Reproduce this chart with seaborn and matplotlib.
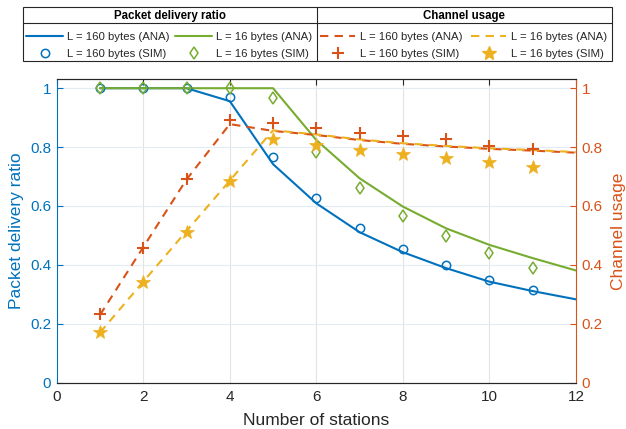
import numpy as np
import pandas as pd
import matplotlib
matplotlib.use("Agg")
import matplotlib.pyplot as plt
import seaborn as sns
from matplotlib.lines import Line2D
from matplotlib.patches import Rectangle
from matplotlib.ticker import FuncFormatter

sns.set_style("white")
plt.rcParams['font.family'] = ['Liberation Sans', 'DejaVu Sans']

# ---------------- data ----------------
stations_ana = [1, 2, 3, 4, 5, 6, 7, 8, 9, 10, 11, 12]
stations_sim = [1, 2, 3, 4, 5, 6, 7, 8, 9, 10, 11]

pdr_160_ana = [1.0, 1.0, 1.0, 0.956, 0.742, 0.609, 0.511, 0.443, 0.389, 0.343, 0.311, 0.283]
pdr_16_ana = [1.0, 1.0, 1.0, 1.0, 1.0, 0.824, 0.694, 0.598, 0.524, 0.468, 0.423, 0.381]
pdr_160_sim = [1.0, 1.0, 1.0, 0.969, 0.768, 0.626, 0.524, 0.453, 0.400, 0.349, 0.315]
pdr_16_sim = [1.0, 1.0, 1.0, 1.0, 0.966, 0.783, 0.660, 0.567, 0.498, 0.439, 0.391]

cu_160_ana = [0.23, 0.46, 0.69, 0.878, 0.855, 0.841, 0.824, 0.811, 0.802, 0.794, 0.788, 0.781]
cu_16_ana = [0.17, 0.343, 0.515, 0.686, 0.857, 0.843, 0.826, 0.813, 0.804, 0.796, 0.790, 0.783]
cu_160_sim = [0.233, 0.457, 0.691, 0.892, 0.883, 0.864, 0.847, 0.836, 0.828, 0.804, 0.793]
cu_16_sim = [0.173, 0.343, 0.513, 0.685, 0.827, 0.807, 0.790, 0.776, 0.764, 0.751, 0.734]

x_ticks = [0, 2, 4, 6, 8, 10, 12]
y_ticks = [0, 0.2, 0.4, 0.6, 0.8, 1.0]
x_label = "Number of stations"
y_left_label = "Packet delivery ratio"
y_right_label = "Channel usage"
lbl_160_ana = "L = 160 bytes (ANA)"
lbl_16_ana = "L = 16 bytes (ANA)"
lbl_160_sim = "L = 160 bytes (SIM)"
lbl_16_sim = "L = 16 bytes (SIM)"

# ---------------- style ----------------
BLUE = "#0072BD"
ORANGE = "#D95319"
YELLOW = "#EDB120"
GREEN = "#77AC30"
DARK = "#262626"

fig = plt.figure(figsize=(6.26, 4.29), dpi=100)
ax = fig.add_axes([0.0906, 0.108, 0.8294, 0.707])
ax2 = ax.twinx()

lw = 1.5
# left axis: packet delivery ratio
sns.lineplot(x=stations_ana, y=pdr_160_ana, ax=ax, color=BLUE, lw=lw, legend=False)
sns.lineplot(x=stations_ana, y=pdr_16_ana, ax=ax, color=GREEN, lw=lw, legend=False)
sns.lineplot(x=stations_sim, y=pdr_160_sim, ax=ax, color=BLUE, linestyle='none', marker='o',
             markersize=6, markerfacecolor='none', markeredgecolor=BLUE, markeredgewidth=1.1, legend=False)
sns.lineplot(x=stations_sim, y=pdr_16_sim, ax=ax, color=GREEN, linestyle='none', marker='d',
             markersize=6.5, markerfacecolor='none', markeredgecolor=GREEN, markeredgewidth=1.1, legend=False)

# right axis: channel usage
sns.lineplot(x=stations_ana, y=cu_160_ana, ax=ax2, color=ORANGE, lw=lw, legend=False)
sns.lineplot(x=stations_ana, y=cu_16_ana, ax=ax2, color=YELLOW, lw=lw, legend=False)
for ln in ax2.lines:
    ln.set_dashes((4, 3))
sns.lineplot(x=stations_sim, y=cu_160_sim, ax=ax2, color=ORANGE, linestyle='none', marker='+',
             markersize=9, markeredgewidth=1.5, markeredgecolor=ORANGE, legend=False)
sns.lineplot(x=stations_sim, y=cu_16_sim, ax=ax2, color=YELLOW, linestyle='none', marker='*',
             markersize=10, markeredgewidth=0.5, markerfacecolor=YELLOW, markeredgecolor=YELLOW, legend=False)

fmt = FuncFormatter(lambda v, p: f"{v:g}")
for a in (ax, ax2):
    a.set_xlim(0, 12)
    a.set_ylim(0, 1.03)
    a.set_yticks(y_ticks)
    a.yaxis.set_major_formatter(fmt)

ax.set_xticks(x_ticks)
ax.xaxis.set_major_formatter(fmt)

# grid
for xv in x_ticks[1:-1]:
    ax.axvline(xv, color="#e3e3e3", lw=0.8, zorder=0)
for yv in y_ticks[1:]:
    ax.axhline(yv, color="#e1ecf6", lw=0.8, zorder=0)

ax.tick_params(axis='x', direction='in', length=4, colors=DARK, labelsize=11, top=True, pad=5)
ax.tick_params(axis='y', direction='in', length=4, colors=BLUE, labelsize=11, pad=4)
ax2.tick_params(axis='y', direction='in', length=4, colors=ORANGE, labelsize=11, pad=4)
ax2.tick_params(axis='x', top=False, bottom=False)

for a in (ax, ax2):
    a.spines['top'].set_color(DARK)
    a.spines['bottom'].set_color(DARK)
    a.spines['left'].set_color(BLUE)
    a.spines['right'].set_color(ORANGE)
    for s in a.spines.values():
        s.set_linewidth(0.8)
ax.spines['right'].set_visible(False)
ax2.spines['left'].set_visible(False)

ax.set_xlabel(x_label, fontsize=12.5, color=DARK, labelpad=7)
ax.set_ylabel(y_left_label, fontsize=12.5, color=BLUE, labelpad=4)
ax2.set_ylabel(y_right_label, fontsize=12.5, color=ORANGE, labelpad=6)

# ---------------- legend ----------------
h_b_ana = Line2D([], [], color=BLUE, lw=lw)
h_g_ana = Line2D([], [], color=GREEN, lw=lw)
h_b_sim = Line2D([], [], color=BLUE, ls='none', marker='o', markersize=6, markerfacecolor='none', markeredgewidth=1.1)
h_g_sim = Line2D([], [], color=GREEN, ls='none', marker='d', markersize=6.5, markerfacecolor='none', markeredgewidth=1.1)
h_o_ana = Line2D([], [], color=ORANGE, lw=lw, dashes=(4, 3))
h_y_ana = Line2D([], [], color=YELLOW, lw=lw, dashes=(4, 3))
h_o_sim = Line2D([], [], color=ORANGE, ls='none', marker='+', markersize=9, markeredgewidth=1.5)
h_y_sim = Line2D([], [], color=YELLOW, ls='none', marker='*', markersize=10)

W, H = 626.0, 429.0
def fx(px):
    return px / W
def fy(py):
    return 1 - py / H

leg_kw = dict(ncol=2, frameon=False, fontsize=8.2,
              labelspacing=0.62, borderpad=0, borderaxespad=0, loc='upper left')
leg1 = fig.legend([h_b_ana, h_b_sim, h_g_ana, h_g_sim],
                  [lbl_160_ana, lbl_160_sim, lbl_16_ana, lbl_16_sim],
                  bbox_to_anchor=(fx(26), fy(32)), handlelength=3.28, handletextpad=0.35,
                  columnspacing=0.44, **leg_kw)
leg2 = fig.legend([h_o_ana, h_o_sim, h_y_ana, h_y_sim],
                  [lbl_160_ana, lbl_160_sim, lbl_16_ana, lbl_16_sim],
                  bbox_to_anchor=(fx(320), fy(32)), handlelength=3.1, handletextpad=0.45,
                  columnspacing=0.7, **leg_kw)

bx0, bx1, by0, by1 = 22.7, 611.7, 6.7, 60.7
box = Rectangle((fx(bx0), fy(by1)), fx(bx1) - fx(bx0), fy(by0) - fy(by1), transform=fig.transFigure,
                fill=False, edgecolor=DARK, lw=0.8)
fig.add_artist(box)
fig.add_artist(Line2D([fx(bx0), fx(bx1)], [fy(23), fy(23)], transform=fig.transFigure, color=DARK, lw=0.8))
fig.add_artist(Line2D([fx(316.7), fx(316.7)], [fy(by0), fy(by1)], transform=fig.transFigure, color=DARK, lw=0.8))
fig.text(fx(169.5), fy(15.8), "Packet delivery ratio", ha='center', va='center', fontsize=8.3,
         fontweight='bold', color='black')
fig.text(fx(464), fy(15.8), "Channel usage", ha='center', va='center', fontsize=8.3,
         fontweight='bold', color='black')

fig.savefig("out.png", dpi=100)
